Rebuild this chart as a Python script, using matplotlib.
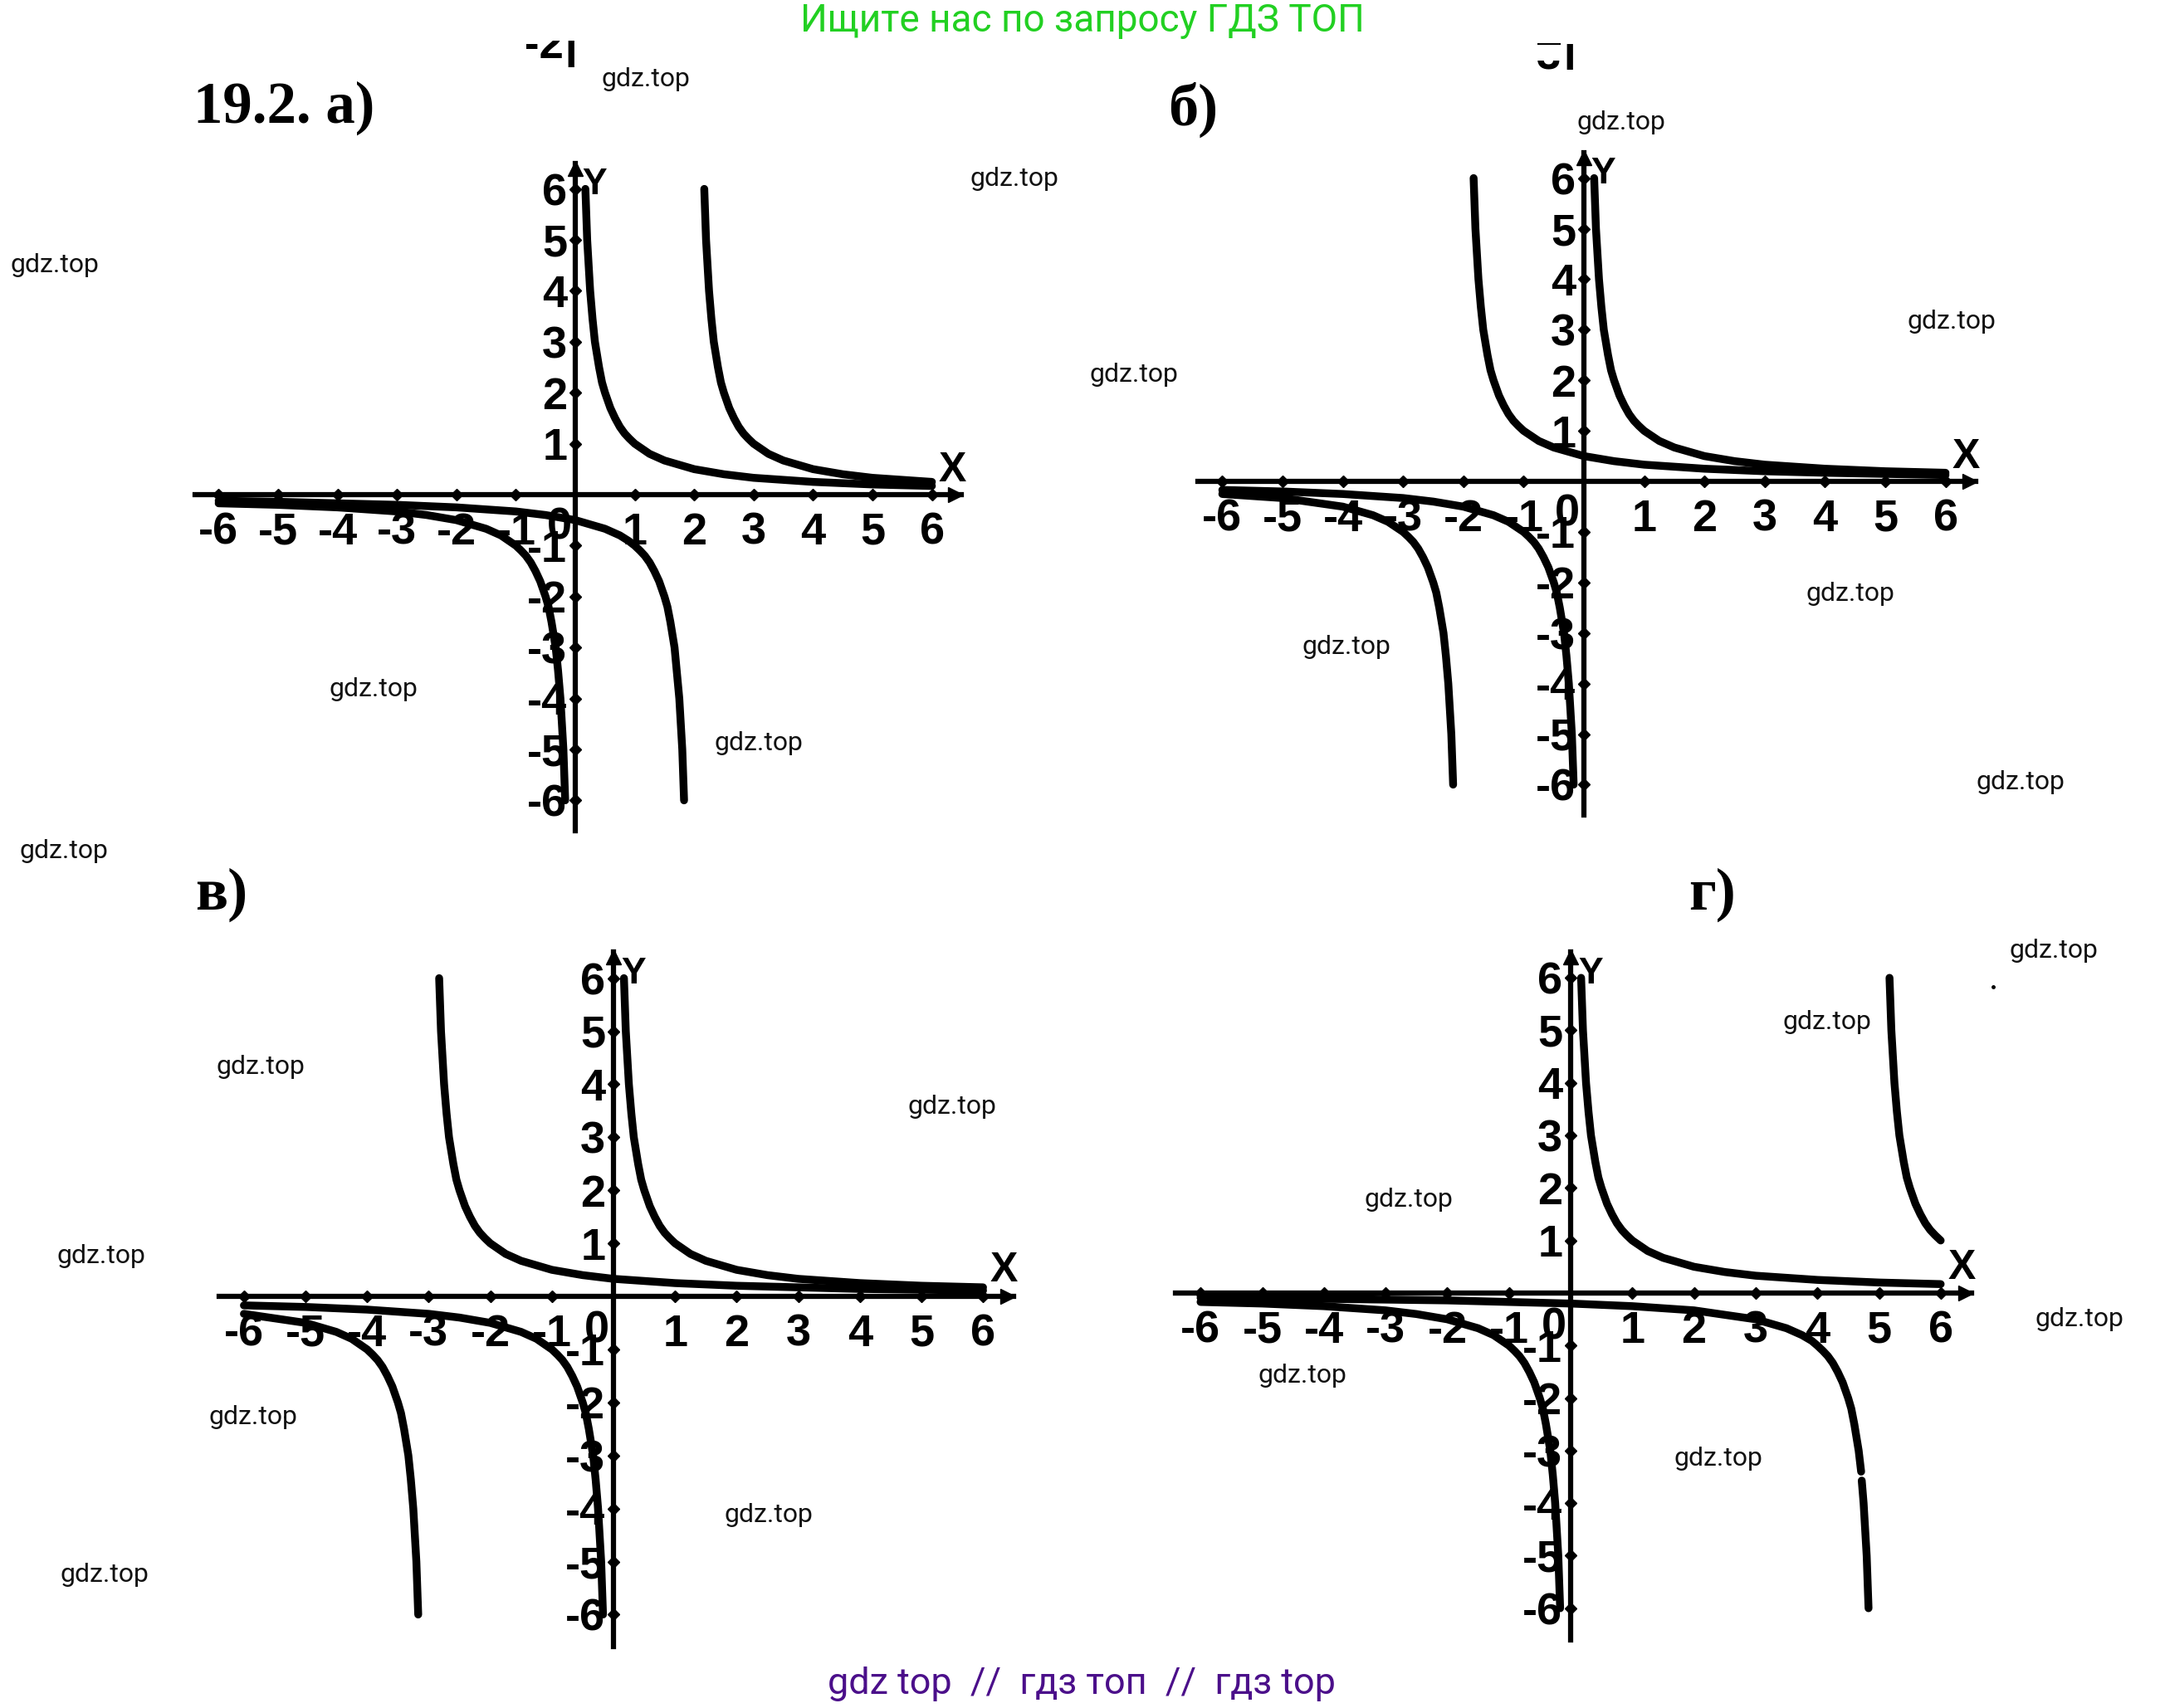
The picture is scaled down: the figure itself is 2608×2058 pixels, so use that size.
#!/usr/bin/env python3
"""Four hyperbola sketches from exercise 19.2, with the gdz.top watermarks."""

import matplotlib
matplotlib.use('Agg')
import matplotlib.pyplot as plt
from matplotlib.lines import Line2D
from matplotlib.transforms import Bbox

WIDTH, HEIGHT = 2608, 2058

# ticks shared by all four panels
x_ticks = [-6, -5, -4, -3, -2, -1, 1, 2, 3, 4, 5, 6]
x_tick_labels = ['-6', '-5', '-4', '-3', '-2', '-1', '1', '2', '3', '4', '5', '6']
y_ticks = [-6, -5, -4, -3, -2, -1, 1, 2, 3, 4, 5, 6]
y_tick_labels = ['-6', '-5', '-4', '-3', '-2', '-1', '1', '2', '3', '4', '5', '6']

# branches next to the y axis, the same in every panel
near_up_x = [0.17, 0.2, 0.25, 0.29, 0.33, 0.4, 0.45, 0.5, 0.59, 0.67, 0.75, 0.83, 0.91, 1, 1.25, 1.5, 2, 2.5, 3, 4, 5, 6]
near_up_y = [6, 5, 4, 3.45, 3, 2.5, 2.2, 2, 1.7, 1.5, 1.33, 1.2, 1.1, 1, 0.8, 0.67, 0.5, 0.4, 0.33, 0.25, 0.2, 0.17]
near_low_x = [-6, -5, -4, -3, -2.5, -2, -1.5, -1.25, -1, -0.91, -0.83, -0.75, -0.67, -0.59, -0.5, -0.45, -0.4, -0.33, -0.29, -0.25, -0.2, -0.17]
near_low_y = [-0.17, -0.2, -0.25, -0.33, -0.4, -0.5, -0.67, -0.8, -1, -1.1, -1.2, -1.33, -1.5, -1.7, -2, -2.2, -2.5, -3, -3.45, -4, -5, -6]

# panel a, shifted branches
a_up_x = [2.17, 2.2, 2.25, 2.29, 2.33, 2.4, 2.45, 2.5, 2.59, 2.67, 2.75, 2.83, 2.91, 3, 3.25, 3.5, 4, 4.5, 5, 6]
a_up_y = [6, 5, 4, 3.45, 3, 2.5, 2.2, 2, 1.7, 1.5, 1.33, 1.2, 1.1, 1, 0.8, 0.67, 0.5, 0.4, 0.33, 0.25]
a_low_x = [-6, -5, -4, -3, -2, -1, -0.5, 0, 0.5, 0.75, 0.9, 1, 1.09, 1.17, 1.25, 1.33, 1.41, 1.5, 1.55, 1.6, 1.67, 1.75, 1.8, 1.83]
a_low_y = [-0.12, -0.14, -0.17, -0.2, -0.25, -0.33, -0.4, -0.5, -0.67, -0.8, -0.91, -1, -1.1, -1.2, -1.33, -1.5, -1.7, -2, -2.2, -2.5, -3, -4, -5, -6]

# panel b
b_up_x = [-1.83, -1.8, -1.75, -1.71, -1.67, -1.6, -1.55, -1.5, -1.41, -1.33, -1.25, -1.17, -1.09, -1, -0.75, -0.5, 0, 0.5, 1, 2, 3, 4, 6]
b_up_y = [6, 5, 4, 3.45, 3, 2.5, 2.2, 2, 1.7, 1.5, 1.33, 1.2, 1.1, 1, 0.8, 0.67, 0.5, 0.4, 0.33, 0.25, 0.2, 0.17, 0.125]
b_low_x = [-6, -5, -4, -3.5, -3.25, -3, -2.91, -2.83, -2.75, -2.67, -2.59, -2.5, -2.45, -2.4, -2.33, -2.29, -2.25, -2.2, -2.17]
b_low_y = [-0.25, -0.33, -0.5, -0.67, -0.8, -1, -1.1, -1.2, -1.33, -1.5, -1.7, -2, -2.2, -2.5, -3, -3.45, -4, -5, -6]

# panel c
c_up_x = [-2.83, -2.8, -2.75, -2.71, -2.67, -2.6, -2.55, -2.5, -2.41, -2.33, -2.25, -2.17, -2.09, -2, -1.75, -1.5, -1, -0.5, 0, 1, 2, 3, 4, 6]
c_up_y = [6, 5, 4, 3.45, 3, 2.5, 2.2, 2, 1.7, 1.5, 1.33, 1.2, 1.1, 1, 0.8, 0.67, 0.5, 0.4, 0.33, 0.25, 0.2, 0.17, 0.14, 0.11]
c_low_x = [-6, -5, -4.5, -4.25, -4, -3.91, -3.83, -3.75, -3.67, -3.59, -3.5, -3.45, -3.4, -3.33, -3.29, -3.25, -3.2, -3.17]
c_low_y = [-0.33, -0.5, -0.67, -0.8, -1, -1.1, -1.2, -1.33, -1.5, -1.7, -2, -2.2, -2.5, -3, -3.45, -4, -5, -6]

# panel d, the lower branch has a small break in the scan
d_up_x = [5.17, 5.2, 5.25, 5.29, 5.33, 5.4, 5.45, 5.5, 5.59, 5.67, 5.75, 5.83, 5.91, 6]
d_up_y = [6, 5, 4, 3.45, 3, 2.5, 2.2, 2, 1.7, 1.5, 1.33, 1.2, 1.1, 1]
d_low_x = [-6, -4, -2, -1, 0, 1, 2, 3, 3.5, 3.75, 3.91, 4, 4.09, 4.17, 4.25, 4.33, 4.41, 4.5, 4.55, 4.6, 4.67, 4.71]
d_low_y = [-0.09, -0.11, -0.14, -0.17, -0.2, -0.25, -0.33, -0.5, -0.67, -0.8, -0.91, -1, -1.1, -1.2, -1.33, -1.5, -1.7, -2, -2.2, -2.5, -3, -3.4]
d_low2_x = [4.72, 4.75, 4.8, 4.83]
d_low2_y = [-3.57, -4, -5, -6]

# origin and unit size of each panel in image pixels
panels = [
    dict(ox=693, oy=596, ux=71.6, uy=61.4, curves=[(a_up_x, a_up_y), (a_low_x, a_low_y)]),
    dict(ox=1908, oy=580, ux=72.6, uy=60.9, curves=[(b_up_x, b_up_y), (b_low_x, b_low_y)]),
    dict(ox=739, oy=1562, ux=74.2, uy=63.9, curves=[(c_up_x, c_up_y), (c_low_x, c_low_y)]),
    dict(ox=1892, oy=1558, ux=74.3, uy=63.3,
         curves=[(d_up_x, d_up_y), (d_low_x, d_low_y), (d_low2_x, d_low2_y)]),
]

panel_titles = [
    ('19.2. а)', 233, 148, 51),
    ('б)', 1407, 151, 52),
    ('в)', 235, 1096, 52),
    ('г)', 2034, 1096, 52),
]

watermarks = [
    (778, 95), (1222, 215), (66, 320), (1953, 147), (1366, 451), (2351, 388),
    (2229, 715), (1622, 779), (2434, 943), (450, 830), (914, 895), (77, 1026),
    (314, 1286), (1147, 1334), (122, 1514), (305, 1707), (926, 1826), (126, 1898),
    (1697, 1445), (2201, 1231), (2474, 1146), (2505, 1590), (1569, 1658), (2070, 1758),
]

XMIN, XMAX = -6.4, 6.5
YMIN, YMAX = -6.6, 6.5


def fx(px):
    return px / WIDTH


def fy(py):
    return 1 - py / HEIGHT


def draw_panel(fig, p):
    """One sketch: axes through zero, diamonds for ticks, two hyperbolas."""
    left = p['ox'] + XMIN * p['ux']
    top = p['oy'] - YMAX * p['uy']
    w = (XMAX - XMIN) * p['ux']
    h = (YMAX - YMIN) * p['uy']
    ax = fig.add_axes([fx(left), fy(top + h), w / WIDTH, h / HEIGHT])
    ax.set_xlim(XMIN, XMAX)
    ax.set_ylim(YMIN, YMAX)
    ax.patch.set_visible(False)

    for side in ['top', 'right']:
        ax.spines[side].set_visible(False)
    for side in ['left', 'bottom']:
        ax.spines[side].set_position('zero')
        ax.spines[side].set_linewidth(4.5)

    label_font = dict(family='Liberation Sans', fontweight='bold', fontsize=39)
    ax.set_xticks(x_ticks)
    ax.set_xticklabels(x_tick_labels, **label_font)
    ax.set_yticks(y_ticks)
    ax.set_yticklabels(y_tick_labels, **label_font)
    ax.tick_params(axis='x', length=0, pad=15)
    ax.tick_params(axis='y', length=0, pad=7)

    ax.plot(x_ticks, [0] * len(x_ticks), 'D', color='black', ms=7, clip_on=False)
    ax.plot([0] * len(y_ticks), y_ticks, 'D', color='black', ms=7, clip_on=False)

    # arrow heads, a little inside the end of the axis line
    ax.plot([XMAX - 0.1], [0], '>', color='black', ms=13, clip_on=False)
    ax.plot([0], [YMAX - 0.1], '^', color='black', ms=13, clip_on=False)

    curves = [(near_up_x, near_up_y), (near_low_x, near_low_y)] + p['curves']
    for cx, cy in curves:
        ax.plot(cx, cy, color='black', lw=6.8, solid_capstyle='round',
                solid_joinstyle='round', clip_on=False)

    ax.text(-0.27, -0.65, '0', ha='center', va='center', **label_font)
    ax.text(6.34, 0.48, 'X', ha='center', va='center', family='Liberation Sans',
            fontweight='bold', fontsize=36, clip_on=False)
    ax.text(0.32, 6.08, 'Y', ha='center', va='center', family='Liberation Sans',
            fontweight='bold', fontsize=32, clip_on=False)


def draw_scrap(fig, text, px, py, clip_top):
    """Piece of the previous exercise, cut off by the edge of the scan."""
    t = fig.text(fx(px), fy(py), text, family='Liberation Sans', fontweight='bold',
                 fontsize=38, ha='left', va='baseline')
    t.set_clip_box(Bbox([[px - 10, 0], [px + 70, HEIGHT - clip_top]]))
    t.set_clip_on(True)


def main():
    fig = plt.figure(figsize=(WIDTH / 100, HEIGHT / 100), dpi=100, facecolor='white')

    for p in panels:
        draw_panel(fig, p)

    for title, px, py, size in panel_titles:
        fig.text(fx(px), fy(py), title, family='Liberation Serif', fontweight='bold',
                 fontsize=size, ha='left', va='baseline')

    draw_scrap(fig, '-2', 632, 70, 49)
    draw_scrap(fig, 'l', 680, 81, 49)
    draw_scrap(fig, '3', 1851, 84, 73)
    draw_scrap(fig, 'l', 1883, 84, 53)
    fig.add_artist(Line2D([fx(1853), fx(1879)], [fy(53), fy(53)], lw=1.5, color='black'))

    fig.add_artist(Line2D([fx(2401)], [fy(1189)], marker='o', ms=2.5, color='black'))

    for px, py in watermarks:
        fig.text(fx(px), fy(py), 'gdz.top', family='Roboto', fontsize=23,
                 color='#111111', ha='center', va='center')

    fig.text(fx(1304), fy(25), 'Ищите нас по запросу ГДЗ ТОП', family='Roboto',
             fontsize=33, color='#22d022', ha='center', va='center')
    fig.text(fx(1303), fy(2029), 'gdz top  //  гдз топ  //  гдз top', family='Roboto',
             fontsize=32.4, color='#4b0f8a', ha='center', va='center')

    fig.savefig('out.png', dpi=100)


if __name__ == '__main__':
    main()
